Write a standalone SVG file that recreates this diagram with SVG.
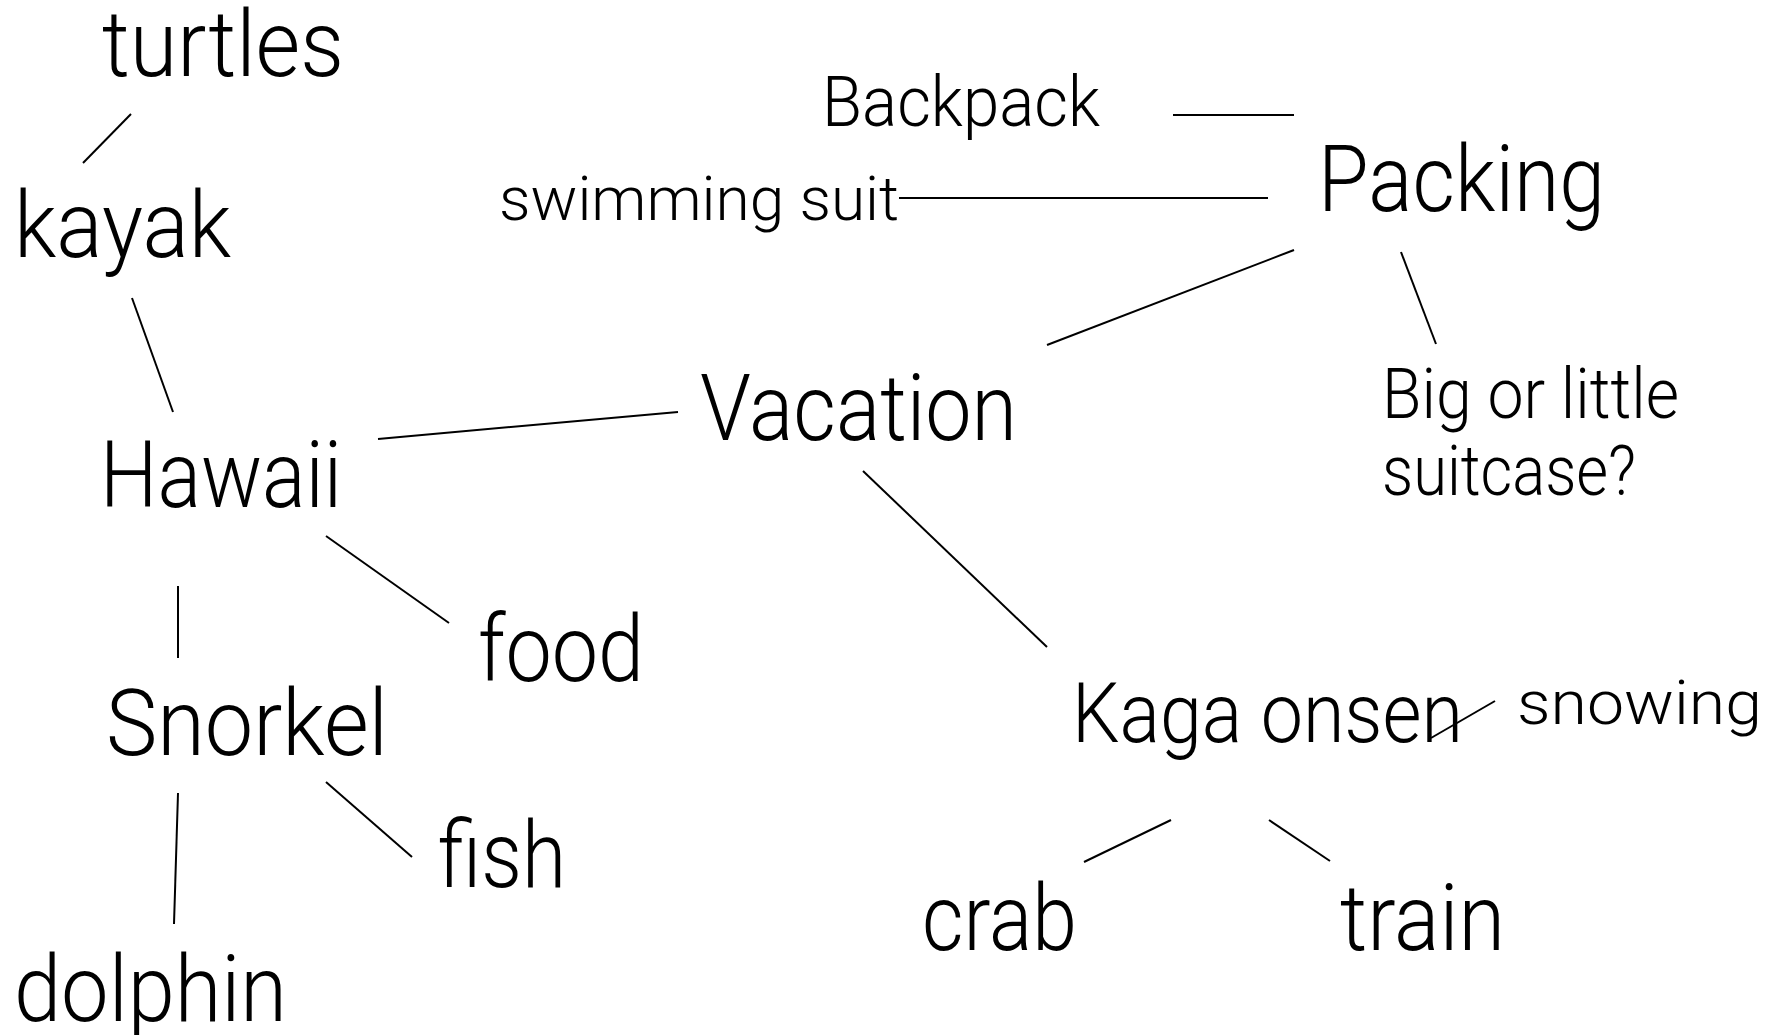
<svg xmlns="http://www.w3.org/2000/svg" width="1785" height="1035" viewBox="0 0 1785 1035">
<style>
text { font-family: Roboto, "Open Sans", "Liberation Sans", sans-serif; font-weight: 300; fill: #000; lengthAdjust: spacingAndGlyphs; }
.l { font-size: 92px; }
.m { font-size: 84px; }
.s { font-size: 70px; }
.xs { font-size: 62px; }
#connectors line { stroke: #000; stroke-width: 2; }
</style>
<rect width="1785" height="1035" fill="#fff"/>
<g id="connectors">
<line x1="131" y1="114" x2="83" y2="163"/>
<line x1="132" y1="298" x2="173" y2="412"/>
<line x1="378" y1="439" x2="678" y2="412"/>
<line x1="1047" y1="345" x2="1294" y2="250"/>
<line x1="1173" y1="115" x2="1294" y2="115"/>
<line x1="899" y1="198" x2="1268" y2="198"/>
<line x1="1401" y1="252" x2="1436" y2="344"/>
<line x1="326" y1="536" x2="449" y2="623"/>
<line x1="178" y1="586" x2="178" y2="658"/>
<line x1="326" y1="782" x2="412" y2="857"/>
<line x1="178" y1="793" x2="174" y2="924"/>
<line x1="863" y1="471" x2="1047" y2="647"/>
<line x1="1431" y1="738" x2="1495" y2="701"/>
<line x1="1171" y1="820" x2="1084" y2="862"/>
<line x1="1269" y1="820" x2="1330" y2="861"/>
</g>
<g id="turtles"><text class="l" x="102" y="76" textLength="242" lengthAdjust="spacingAndGlyphs">turtles</text></g>
<g id="kayak"><text class="l" x="14" y="257" textLength="217" lengthAdjust="spacingAndGlyphs">kayak</text></g>
<g id="hawaii"><text class="l" x="100" y="507" textLength="242" lengthAdjust="spacingAndGlyphs">Hawaii</text></g>
<g id="vacation"><text class="l" x="700" y="440" textLength="317" lengthAdjust="spacingAndGlyphs">Vacation</text></g>
<g id="packing"><text class="l" x="1318" y="211" textLength="287" lengthAdjust="spacingAndGlyphs">Packing</text></g>
<g id="backpack"><text class="s" x="822" y="126" textLength="278" lengthAdjust="spacingAndGlyphs">Backpack</text></g>
<g id="swimming-suit"><text class="xs" x="499" y="220" textLength="400" lengthAdjust="spacingAndGlyphs">swimming suit</text></g>
<g id="suitcase"><text class="s" x="1382" y="418" textLength="297" lengthAdjust="spacingAndGlyphs">Big or little</text><text class="s" x="1382" y="495" textLength="254" lengthAdjust="spacingAndGlyphs">suitcase?</text></g>
<g id="food"><text class="l" x="478" y="681" textLength="166" lengthAdjust="spacingAndGlyphs">food</text></g>
<g id="snorkel"><text class="l" x="106" y="755" textLength="282" lengthAdjust="spacingAndGlyphs">Snorkel</text></g>
<g id="fish"><text class="l" x="438" y="887" textLength="128" lengthAdjust="spacingAndGlyphs">fish</text></g>
<g id="dolphin"><text class="l" x="14" y="1021" textLength="273" lengthAdjust="spacingAndGlyphs">dolphin</text></g>
<g id="kaga-onsen"><text class="m" x="1072" y="742" textLength="391" lengthAdjust="spacingAndGlyphs">Kaga onsen</text></g>
<g id="snowing"><text class="xs" x="1517" y="724" textLength="245" lengthAdjust="spacingAndGlyphs">snowing</text></g>
<g id="crab"><text class="l" x="922" y="950" textLength="155" lengthAdjust="spacingAndGlyphs">crab</text></g>
<g id="train"><text class="l" x="1340" y="950" textLength="165" lengthAdjust="spacingAndGlyphs">train</text></g>
</svg>
